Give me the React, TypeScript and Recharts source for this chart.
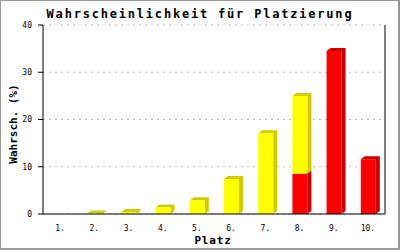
import React from 'react'
import { BarChart, Bar, XAxis, YAxis, CartesianGrid } from 'recharts'

document.body.style.margin = '0'

const categories = ['1.', '2.', '3.', '4.', '5.', '6.', '7.', '8.', '9.', '10.']
const yellowValues = [0, 0.1, 0.4, 1.4, 2.9, 7.4, 17.1, 16.5, 0, 0]
const redValues = [0, 0, 0, 0, 0, 0, 0, 8.5, 34.5, 11.6]
const yTicks = [0, 10, 20, 30, 40]

const data = categories.map((platz, i) => ({ platz, red: redValues[i], yellow: yellowValues[i] }))

const mono = '"DejaVu Sans Mono", monospace'

// front face plus a shifted dark side, like the old 3d-ish bar look
const ShadowBar = (shadow: string) => (props: any) => {
  const { x, y, width, height, fill } = props
  if (!height || height <= 0) return null
  const dx = 4
  const dy = 3
  const pts = [
    [x, y],
    [x + dx, y - dy],
    [x + width + dx, y - dy],
    [x + width + dx, y + height - dy],
    [x + width, y + height],
    [x + width, y],
  ].map((p) => p.join(',')).join(' ')
  return (
    <g>
      <polygon points={pts} fill={shadow} />
      <rect x={x} y={y} width={width} height={height} fill={fill} />
    </g>
  )
}

export default function App() {
  return (
    <div style={{ position: 'relative', width: 400, height: 250, background: '#fff' }}>
      <BarChart width={400} height={250} data={data} margin={{ top: 25, right: 15, bottom: 16, left: 3 }}>
        <CartesianGrid vertical={false} stroke="#bbbbbb" strokeDasharray="2 4" />
        {/* solid line closing the plot on the right */}
        <CartesianGrid
          horizontal={false}
          stroke="#000"
          verticalCoordinatesGenerator={({ offset }: any) => [offset.left + offset.width]}
        />
        <XAxis
          dataKey="platz"
          height={20}
          tickLine={false}
          axisLine={{ stroke: '#000' }}
          tickMargin={5}
          tick={{ fontSize: 8, fill: '#000', fontFamily: mono }}
          interval={0}
        />
        <YAxis
          width={40}
          domain={[0, 40]}
          ticks={yTicks}
          tickSize={5}
          tickMargin={6}
          axisLine={{ stroke: '#000' }}
          tickLine={{ stroke: '#000' }}
          tick={{ fontSize: 8, fill: '#000', fontFamily: mono }}
        />
        <Bar dataKey="red" stackId="a" barSize={15} fill="#ff0000" shape={ShadowBar('#cc0000')} isAnimationActive={false} />
        <Bar dataKey="yellow" stackId="a" barSize={15} fill="#ffff00" shape={ShadowBar('#d0cc00')} isAnimationActive={false} />
      </BarChart>
      <svg width={400} height={250} style={{ position: 'absolute', left: 0, top: 0, pointerEvents: 'none' }}>
        <text x={200} y={18} textAnchor="middle" fontFamily={mono} fontWeight="bold" fontSize={12} letterSpacing={1.8}>
          Wahrscheinlichkeit für Platzierung
        </text>
        <text x={213} y={244} textAnchor="middle" fontFamily={mono} fontWeight="bold" fontSize={11} letterSpacing={0.8}>
          Platz
        </text>
        <text
          x={17}
          y={124}
          textAnchor="middle"
          fontFamily={mono}
          fontWeight="bold"
          fontSize={11}
          transform="rotate(-90 17 124)"
        >
          Wahrsch. (%)
        </text>
        <rect x={0.5} y={0.5} width={398} height={248} fill="none" stroke="#999" />
        <rect x={398} y={0} width={2} height={250} fill="#999" />
        <rect x={0} y={248} width={400} height={2} fill="#999" />
      </svg>
    </div>
  )
}
